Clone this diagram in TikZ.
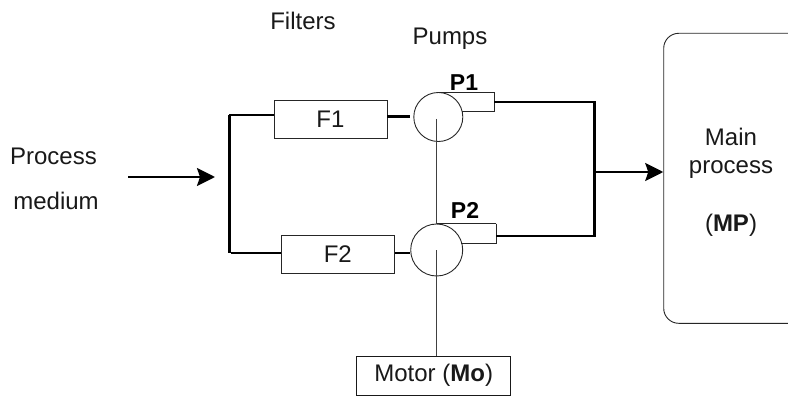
\documentclass[tikz,border=0pt]{standalone}
\usepackage{fontspec}
\setmainfont{Liberation Sans}
\usetikzlibrary{arrows.meta}
\tikzset{
  lbl/.style={inner sep=0pt,font=\fontsize{24}{28}\selectfont,text=black!90},
  plbl/.style={inner sep=0pt,font=\fontsize{23}{28}\selectfont\bfseries,text=black},
  device/.style={draw=black!85,line width=0.9pt,fill=white,inner sep=0pt},
  pipe/.style={draw=black,line width=2.4pt},
  thin line/.style={draw=black!75,line width=1pt},
  flow/.style={pipe,-{Stealth[length=18pt,width=18pt,inset=3pt]}}
}
\begin{document}
\begin{tikzpicture}[x=1pt,y=-1pt]
\useasboundingbox (0,0) rectangle (788,396);
% pipes
\coordinate (jl1) at (229,115);
\coordinate (jl2) at (229,253);
\coordinate (jin) at (128,177);
\coordinate (jinE) at (215,177);
\coordinate (jr1) at (594.5,102.3);
\coordinate (jr2) at (594.5,236);
\coordinate (jm) at (594.5,172);
% devices
\node[device,minimum width=113pt,minimum height=38pt] (F1) at (330.5,119) {};
\node[lbl] at (F1) {F1};
\node[device,minimum width=113.5pt,minimum height=38pt] (F2) at (337.8,254) {};
\node[lbl] at (F2) {F2};
\node[device,draw=black!90,minimum width=154pt,minimum height=39pt] (Mo) at (433.7,375.5) {};
\node[lbl] at (Mo) {Motor (\textbf{Mo})};
\node[device,rounded corners=15pt,minimum width=140pt,minimum height=290pt] (MP) at (733.7,178.3) {};
\node[lbl,align=center] at (731,182) {Main\\process\\[30pt](\textbf{MP})};
\node[lbl] (tf) at (303,21) {Filters};
\node[lbl] (tp) at (450,39) {Pumps};
\node[lbl] (tpm) at (53.5,156) {Process};
\node[lbl] (tmd) at (56,201) {medium};
% pumps
\draw[device] (494.3,92.5) -- (438,92.5) (494.3,92.5) -- (494.3,111) -- (462,111);
\draw[device] (496,223.7) -- (437,223.7) (496,223.7) -- (496,243.3) -- (461,243.3);
\node[device,fill=none,shape=circle,minimum size=49pt] (P1) at (438.3,117) {};
\node[device,fill=none,shape=circle,minimum size=52pt] (P2) at (436.7,250) {};
\coordinate (P1o) at (494.3,102.3);
\coordinate (P2o) at (496,236);
\node[plbl] (lP1) at (464,83) {P1};
\node[plbl] (lP2) at (465,210) {P2};
% connectors
\draw[thin line] (436.7,119) -- (436.7,223.7);
\draw[thin line] (436.7,250) -- (Mo.north -| 436.7,0);
\draw[pipe,line width=3pt] (jl1) -- (jl2);
\draw[pipe] (jl1) -- (F1.west |- jl1);
\draw[pipe] (231,253) -- (F2.west |- jl2);
\draw[pipe] (F1.east |- 0,116.7) -- (410,116.7);
\draw[pipe] (F2.east |- 0,252.7) -- (P2.west |- 0,252.7);
\draw[pipe,line join=miter] (P1o) -- (jr1) -- (jr2) -- (P2o);
\draw[flow] (jin) -- (jinE);
\draw[flow] (jm) -- (MP.west |- jm);
\end{tikzpicture}
\end{document}
